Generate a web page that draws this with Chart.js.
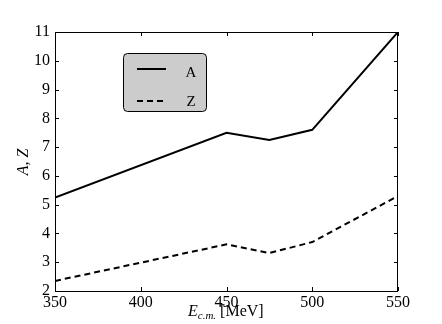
<!DOCTYPE html>
<html>
<head>
<meta charset="utf-8">
<script src="https://cdn.jsdelivr.net/npm/chart.js@4"></script>
<style>
  html, body { margin: 0; padding: 0; background: #fff; }
  #wrap { width: 442px; height: 324px; }
</style>
</head>
<body>
<div id="wrap"><canvas id="c" width="442" height="324"></canvas></div>
<script>
// values
const energies = [350, 450, 475, 500, 550];
const seriesA = [5.25, 7.5, 7.25, 7.6, 11.0];
const seriesZ = [2.35, 3.62, 3.32, 3.7, 5.3];
const xTicks = [350, 400, 450, 500, 550];
const yTicks = [2, 3, 4, 5, 6, 7, 8, 9, 10, 11];

const serif = '"Liberation Serif", "DejaVu Serif", serif';

// inward ticks, axis titles and the legend box
const decor = {
    id: 'decor',
    afterDraw(chart) {
        const ctx = chart.ctx;
        const a = chart.chartArea;
        const xs = chart.scales.x, ys = chart.scales.y;
        ctx.save();
        ctx.strokeStyle = '#000';
        ctx.lineWidth = 1;
        ctx.beginPath();
        xTicks.forEach(v => {
            const px = Math.round(xs.getPixelForValue(v)) + 0.5;
            ctx.moveTo(px, a.bottom); ctx.lineTo(px, a.bottom - 4);
            ctx.moveTo(px, a.top); ctx.lineTo(px, a.top + 4);
        });
        yTicks.forEach(v => {
            const py = Math.round(ys.getPixelForValue(v)) + 0.5;
            ctx.moveTo(a.left, py); ctx.lineTo(a.left + 4, py);
            ctx.moveTo(a.right, py); ctx.lineTo(a.right - 4, py);
        });
        ctx.stroke();
        ctx.strokeRect(a.left + 0.5, a.top + 0.5, a.right - a.left - 1, a.bottom - a.top);

        // x title: E_{c.m.} [MeV]
        ctx.fillStyle = '#000';
        ctx.textBaseline = 'alphabetic';
        ctx.textAlign = 'left';
        let x = 188, y = 316;
        ctx.font = 'italic 16px ' + serif;
        ctx.fillText('E', x, y);
        x += ctx.measureText('E').width;
        ctx.font = 'italic 11px ' + serif;
        ctx.fillText('c.m.', x, y + 3);
        x += ctx.measureText('c.m.').width + 4;
        ctx.font = '16px ' + serif;
        ctx.fillText('[MeV]', x, y);

        // y title
        ctx.save();
        ctx.translate(28, 162);
        ctx.rotate(-Math.PI / 2);
        ctx.textAlign = 'center';
        ctx.font = 'italic 16px ' + serif;
        ctx.fillText('A, Z', 0, 0);
        ctx.restore();

        // legend
        const bx = 123.5, by = 53.5, bw = 83, bh = 58, r = 4;
        ctx.beginPath();
        ctx.roundRect(bx, by, bw, bh, r);
        ctx.fillStyle = '#cccccc';
        ctx.fill();
        ctx.strokeStyle = '#000';
        ctx.lineWidth = 1;
        ctx.stroke();
        ctx.lineWidth = 2;
        ctx.beginPath();
        ctx.moveTo(137, 69); ctx.lineTo(166, 69);
        ctx.stroke();
        ctx.setLineDash([6, 4]);
        ctx.beginPath();
        ctx.moveTo(137, 101); ctx.lineTo(166, 101);
        ctx.stroke();
        ctx.setLineDash([]);
        ctx.fillStyle = '#000';
        ctx.font = '15px ' + serif;
        ctx.textAlign = 'center';
        ctx.fillText('A', 191, 77);
        ctx.fillText('Z', 191, 106);
        ctx.restore();
    }
};

new Chart(document.getElementById('c'), {
    type: 'line',
    data: {
        datasets: [
            {
                label: 'A',
                data: energies.map((e, i) => ({ x: e, y: seriesA[i] })),
                borderColor: '#000',
                borderWidth: 2,
                pointRadius: 0,
                tension: 0,
                fill: false
            },
            {
                label: 'Z',
                data: energies.map((e, i) => ({ x: e, y: seriesZ[i] })),
                borderColor: '#000',
                borderWidth: 2,
                borderDash: [6, 4],
                pointRadius: 0,
                tension: 0,
                fill: false
            }
        ]
    },
    options: {
        responsive: false,
        animation: false,
        layout: { padding: { left: 0, top: 32, right: 44, bottom: 0 } },
        plugins: { legend: { display: false }, tooltip: { enabled: false } },
        scales: {
            x: {
                type: 'linear',
                min: 350, max: 550,
                afterFit: s => { s.height = 33; },
                afterBuildTicks: s => { s.ticks = xTicks.map(v => ({ value: v })); },
                grid: { display: false, drawTicks: false },
                border: { display: false },
                ticks: {
                    color: '#000',
                    font: { family: serif, size: 16 },
                    padding: 2,
                    maxRotation: 0
                }
            },
            y: {
                min: 2, max: 11,
                afterFit: s => { s.width = 55; },
                afterBuildTicks: s => { s.ticks = yTicks.map(v => ({ value: v })); },
                grid: { display: false, drawTicks: false },
                border: { display: false },
                ticks: {
                    color: '#000',
                    font: { family: serif, size: 16 },
                    padding: 5
                }
            }
        }
    },
    plugins: [decor]
});
</script>
</body>
</html>
